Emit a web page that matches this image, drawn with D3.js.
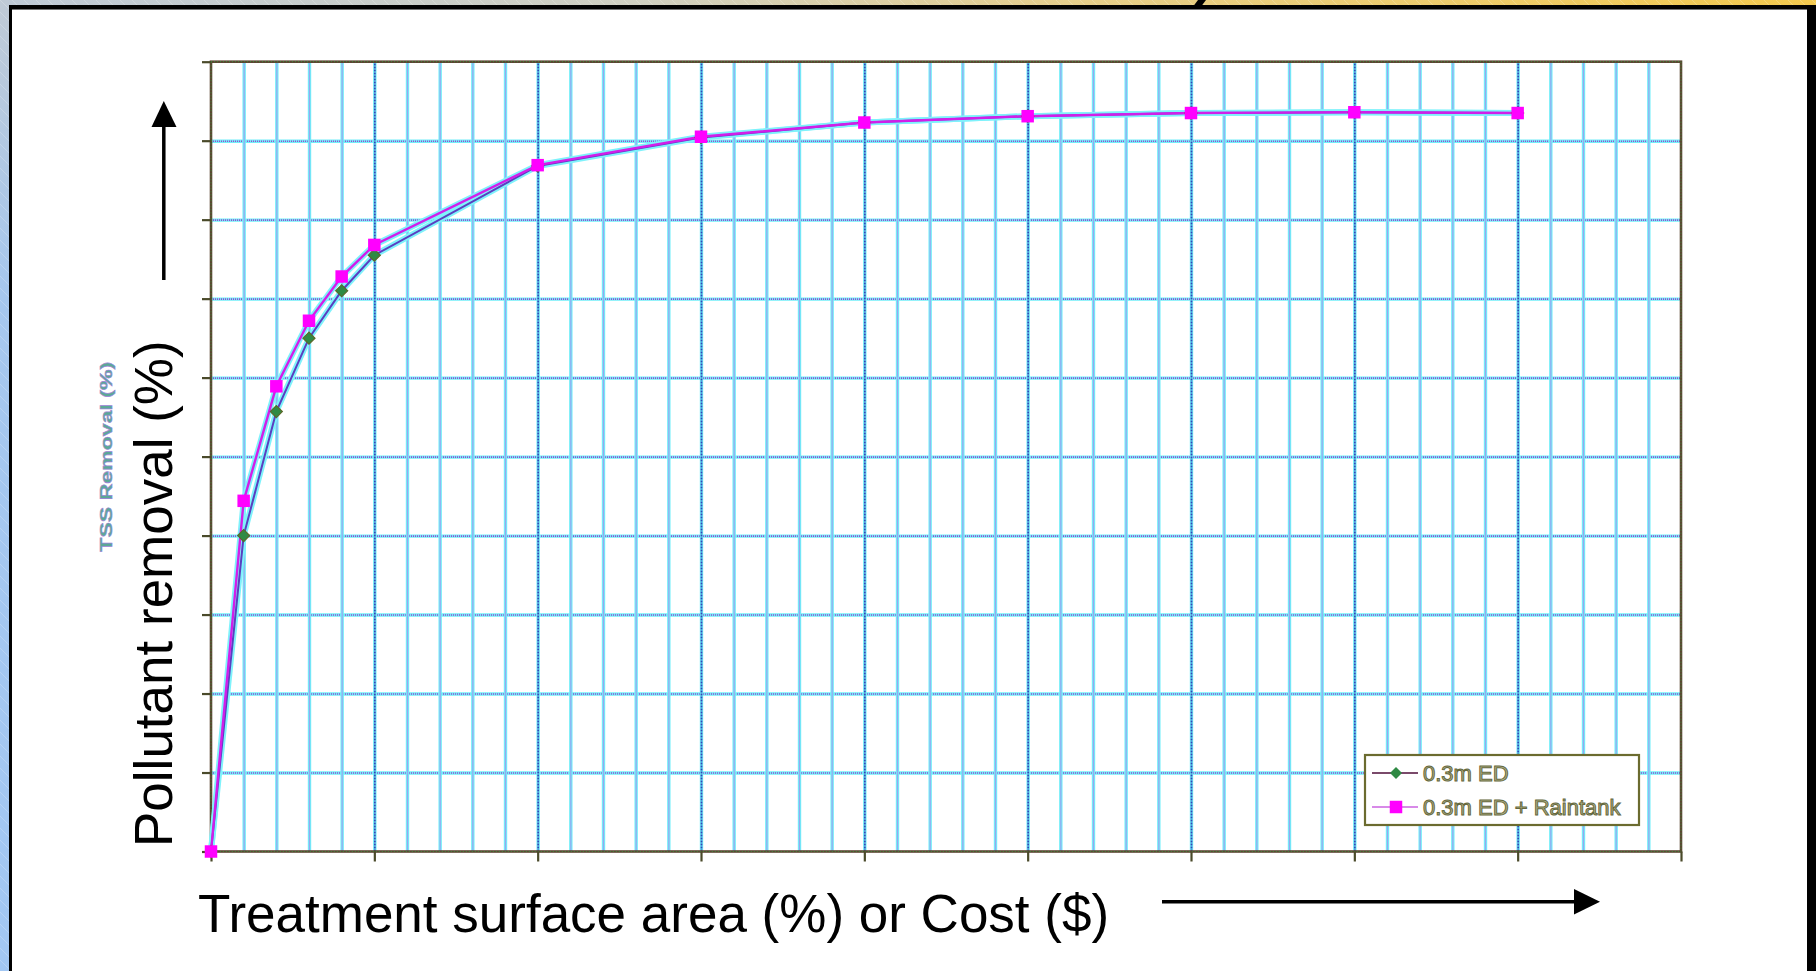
<!DOCTYPE html>
<html lang="en">
<head>
<meta charset="UTF-8">
<title>Pollutant removal vs treatment area</title>
<script src="https://d3js.org/d3.v7.min.js"></script>
<style>
  * { margin: 0; padding: 0; box-sizing: border-box; }
  body { background: #fff; overflow: hidden; font-family: "Liberation Sans", Arial, sans-serif; }
</style>
</head>
<body>
<div id="chart"></div>
<script>
// values
const xValues = [0, 1, 2, 3, 4, 5, 10, 15, 20, 25, 30, 35, 40];
const edValues = [0, 40.0, 55.7, 65.0, 71.0, 75.5, 86.8, 90.4, 92.3, 93.1, 93.5, 93.6, 93.5];
const raintankValues = [0, 44.4, 58.9, 67.2, 72.8, 76.8, 86.9, 90.5, 92.3, 93.1, 93.5, 93.6, 93.5];
const seriesNames = ["0.3m ED", "0.3m ED + Raintank"];
const xMajorTicks = [0, 5, 10, 15, 20, 25, 30, 35, 40, 45];
const yTicks = [0, 10, 20, 30, 40, 50, 60, 70, 80, 90, 100];

const W = 1816, H = 971;
const plot = { left: 211, right: 1681, top: 61.7, bottom: 851.5 };
const plotH = plot.bottom - plot.top, plotW = plot.right - plot.left;

const svg = d3.select("#chart").append("svg")
    .attr("width", W).attr("height", H)
    .style("display", "block");

const defs = svg.append("defs");
const topGrad = defs.append("linearGradient").attr("id", "topGrad");
[["0", "#bfcad6"], ["0.35", "#d0d0c2"], ["0.6", "#e7cf8a"], ["1", "#f3c94e"]]
    .forEach(([o, c]) => topGrad.append("stop").attr("offset", o).attr("stop-color", c));
const sideGrad = defs.append("linearGradient").attr("id", "sideGrad")
    .attr("x1", 0).attr("x2", 0).attr("y1", 0).attr("y2", 1);
[["0", "#bfcad6"], ["0.3", "#a6c7ee"], ["1", "#a2c7f3"]]
    .forEach(([o, c]) => sideGrad.append("stop").attr("offset", o).attr("stop-color", c));
const hatch = defs.append("pattern").attr("id", "hatch")
    .attr("patternUnits", "userSpaceOnUse").attr("width", 12).attr("height", 12);
hatch.append("path").attr("d", "M0,0 L12,12 M-6,6 L6,18 M6,-6 L18,6")
    .attr("stroke", "#fff").attr("stroke-opacity", 0.25).attr("stroke-width", 0.8);

// slide frame
svg.append("rect").attr("width", W).attr("height", H).attr("fill", "url(#topGrad)");
svg.append("rect").attr("width", 10).attr("height", H).attr("fill", "url(#sideGrad)");
svg.append("rect").attr("width", W).attr("height", H).attr("fill", "url(#hatch)");
svg.append("rect").attr("x", 9).attr("y", 5).attr("width", W - 9).attr("height", H).attr("fill", "#000");
svg.append("rect").attr("x", 12).attr("y", 9).attr("width", 1795).attr("height", H).attr("fill", "#777");
svg.append("rect").attr("x", 12).attr("y", 10).attr("width", 1795).attr("height", H).attr("fill", "#fff");
svg.append("path").attr("d", "M1198,0 L1206,0 L1200,8 L1192,8 Z").attr("fill", "#000");

const x = d3.scaleLinear().domain([0, 45]).range([plot.left, plot.right]);
const y = d3.scaleLinear().domain([0, 100]).range([plot.bottom, plot.top]);

// grid: cyan halo with a dithered coloured core
function grid(axis, transform, core, coreW, dash) {
    [["#72eef9", 3.4, null], [core, coreW, dash]].forEach(([c, w, d]) => {
        const g = svg.append("g").attr("transform", transform).call(axis);
        g.select(".domain").remove();
        g.selectAll("line").attr("stroke", c).attr("stroke-width", w).attr("stroke-dasharray", d);
    });
}
const minorX = d3.range(1, 45).filter(v => v % 5 !== 0);
grid(d3.axisLeft(y).tickValues(yTicks.slice(1, -1)).tickSize(-plotW).tickFormat(""),
    `translate(${plot.left},0)`, "#9a4ad0", 1.6, "1,1");
grid(d3.axisBottom(x).tickValues(minorX).tickSize(-plotH).tickFormat(""),
    `translate(0,${plot.bottom})`, "#c060e4", 1.2, "1,1");
grid(d3.axisBottom(x).tickValues(xMajorTicks.slice(1, -1)).tickSize(-plotH).tickFormat(""),
    `translate(0,${plot.bottom})`, "#3346b8", 1.8, "2,1");

// plot frame and ticks
const frame = svg.append("g");
[["#5c4632", 2.6, null], ["#3b8a3b", 1, "1,2"]].forEach(([c, w, d]) => {
    frame.append("rect").attr("x", plot.left).attr("y", plot.top)
        .attr("width", plotW).attr("height", plotH)
        .attr("fill", "none").attr("stroke", c).attr("stroke-width", w).attr("stroke-dasharray", d);
});
const yAxis = svg.append("g").attr("transform", `translate(${plot.left},0)`)
    .call(d3.axisLeft(y).tickValues(yTicks).tickSize(9).tickFormat(""));
const xAxis = svg.append("g").attr("transform", `translate(0,${plot.bottom})`)
    .call(d3.axisBottom(x).tickValues(xMajorTicks).tickSize(10).tickFormat(""));
[yAxis, xAxis].forEach(g => {
    g.select(".domain").remove();
    g.selectAll("line").attr("stroke", "#4a4a2a").attr("stroke-width", 2.2);
});

// series
const line = d3.line().x((d, i) => x(xValues[i])).y(d => y(d));
[raintankValues, edValues].forEach(vals => {
    svg.append("path").datum(vals).attr("d", line)
        .attr("fill", "none").attr("stroke", "#7ff2fb").attr("stroke-width", 6);
});
[[edValues, "#5a3fc0", 2], [raintankValues, "#d21ee8", 2.4]].forEach(([vals, c, w]) => {
    svg.append("path").datum(vals).attr("d", line)
        .attr("fill", "none").attr("stroke", c).attr("stroke-width", w);
});

const diamond = d3.symbol().type(d3.symbolSquare).size(72);
const square = d3.symbol().type(d3.symbolSquare).size(156);
svg.append("g").selectAll("path").data(edValues).join("path")
    .attr("d", diamond)
    .attr("transform", (d, i) => `translate(${x(xValues[i])},${y(d)}) rotate(45)`)
    .attr("fill", "#2f8a44").attr("stroke", "#5a6a2a").attr("stroke-width", 1.2);
svg.append("g").selectAll("path").data(raintankValues).join("path")
    .attr("d", square)
    .attr("transform", (d, i) => `translate(${x(xValues[i])},${y(d)})`)
    .attr("fill", "#ff00ff");

// legend
const legend = svg.append("g").attr("transform", "translate(1365,755)");
legend.append("rect").attr("width", 274).attr("height", 70)
    .attr("fill", "#fff").attr("stroke", "#6b6b2f").attr("stroke-width", 2.2);
const legendRows = [
    { name: seriesNames[0], color: "#7a4a6a", sym: diamond, rot: 45, fill: "#2f8a44" },
    { name: seriesNames[1], color: "#d88ae8", sym: square, rot: 0, fill: "#ff00ff" }
];
legendRows.forEach((r, i) => {
    const g = legend.append("g").attr("transform", `translate(0,${18 + i * 34})`);
    g.append("line").attr("x1", 7).attr("x2", 53).attr("stroke", r.color).attr("stroke-width", 2);
    g.append("path").attr("d", r.sym).attr("transform", `translate(31,0) rotate(${r.rot})`)
        .attr("fill", r.fill);
    g.append("text").attr("x", 58).attr("y", 8)
        .attr("font-size", 22).attr("fill", "#b4b488").attr("stroke", "#65683e")
        .attr("stroke-width", 1).text(r.name);
});

// arrows
svg.append("line").attr("x1", 163.8).attr("x2", 163.8).attr("y1", 280).attr("y2", 124)
    .attr("stroke", "#000").attr("stroke-width", 3.5);
svg.append("path").attr("d", "M163.8,101 L151.5,127 L176.5,127 Z").attr("fill", "#000");
svg.append("line").attr("x1", 1162).attr("x2", 1577).attr("y1", 901.7).attr("y2", 901.7)
    .attr("stroke", "#000").attr("stroke-width", 3.5);
svg.append("path").attr("d", "M1600,901.7 L1574,889 L1574,914.5 Z").attr("fill", "#000");

// titles
svg.append("text").attr("x", 198).attr("y", 931.7)
    .attr("font-size", 53).attr("fill", "#000")
    .text("Treatment surface area (%) or Cost ($)");
svg.append("text").attr("transform", "translate(172,847) rotate(-90)")
    .attr("font-size", 53).attr("fill", "#000")
    .text("Pollutant removal (%)");
svg.append("text").attr("transform", "translate(111.5,551.7) rotate(-90)")
    .attr("font-size", 16).attr("font-weight", "bold")
    .attr("textLength", 190).attr("lengthAdjust", "spacingAndGlyphs")
    .attr("fill", "#3f9a86").attr("stroke", "#8a6ad0").attr("stroke-width", 0.5)
    .attr("opacity", 0.85)
    .text("TSS Removal (%)");
</script>
</body>
</html>
